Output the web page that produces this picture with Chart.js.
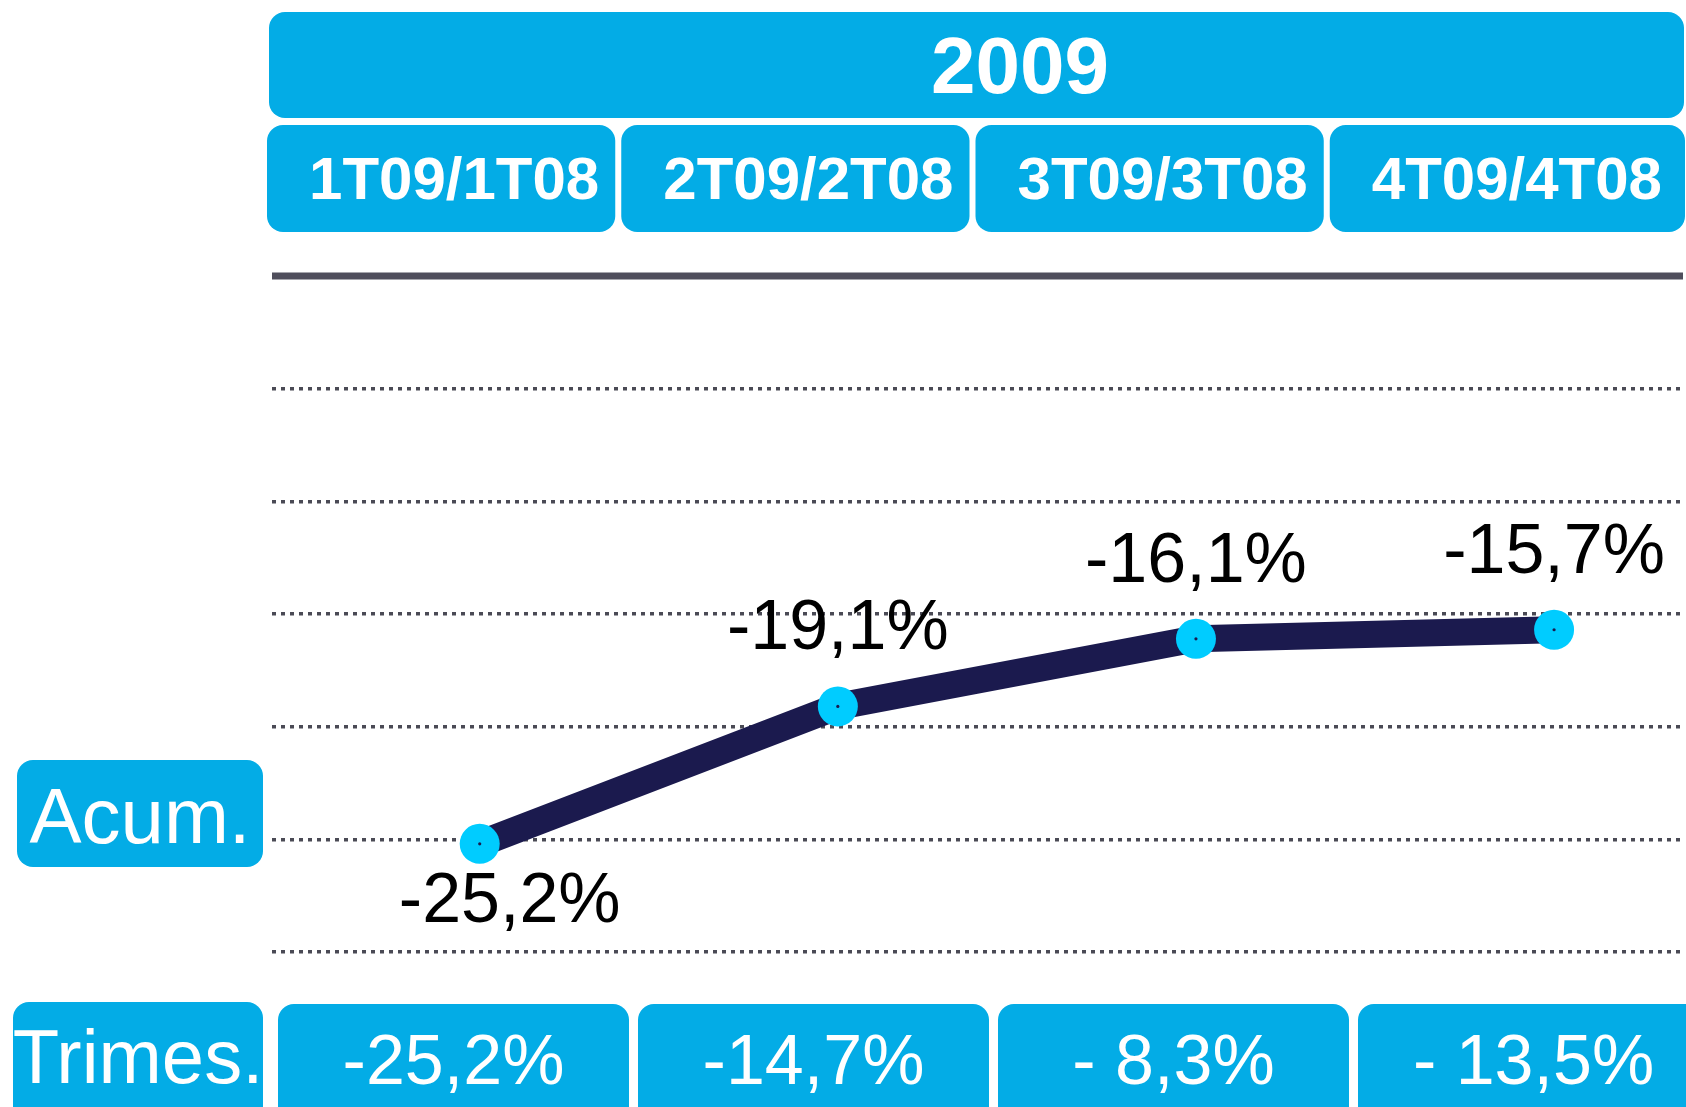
<!DOCTYPE html>
<html lang="es">
<head>
<meta charset="utf-8">
<title>Acum. / Trimes. 2009</title>
<script src="https://cdn.jsdelivr.net/npm/chart.js@4.4.1/dist/chart.umd.min.js"></script>
<style>
  html, body { margin: 0; padding: 0; background: #fff; }
  #wrap { width: 1686px; height: 1107px; overflow: hidden; }
</style>
</head>
<body>
<div id="wrap"><canvas id="acumChart" width="1686" height="1107"></canvas></div>
<script>
/* ==========================================================
   Variación acumulada vs trimestral 2009
   ========================================================== */

const yearLabel = '2009';
const quarters = ['1T09/1T08', '2T09/2T08', '3T09/3T08', '4T09/4T08'];
const acumValues = [-25.2, -19.1, -16.1, -15.7];
const trimesLabels = ['-25,2%', '-14,7%', '- 8,3%', '- 13,5%'];
const rowLabels = ['Acum.', 'Trimes.'];
const yTicks = [0, -5, -10, -15, -20, -25, -30];

const BLUE = '#03ace6';
const FONT = '"Liberation Sans", Arial, Helvetica, sans-serif';

const fmtPct = v => v.toFixed(1).replace('.', ',') + '%';

function roundBox(ctx, x, y, w, h, r) {
    ctx.beginPath();
    ctx.roundRect(x, y, w, h, r);
    ctx.fill();
}

function boxText(ctx, text, x, y, font, color) {
    ctx.font = font;
    ctx.fillStyle = color;
    ctx.textAlign = 'center';
    ctx.textBaseline = 'alphabetic';
    ctx.fillText(text, x, y);
}

// cabeceras, línea de cero, etiquetas y cajas inferiores
const framePlugin = {
    id: 'frame',
    beforeDatasetsDraw(chart) {
        const { ctx, chartArea, scales: { y } } = chart;
        const y0 = y.getPixelForValue(0);
        ctx.save();
        ctx.strokeStyle = '#4f4e5c';
        ctx.lineWidth = 7;
        ctx.beginPath();
        ctx.moveTo(chartArea.left, y0);
        ctx.lineTo(chartArea.right, y0);
        ctx.stroke();
        ctx.restore();
    },
    afterDatasetsDraw(chart) {
        const { ctx } = chart;
        const pts = chart.getDatasetMeta(0).data;
        ctx.save();
        pts.forEach((p, i) => {
            const below = i === 0;
            boxText(ctx, fmtPct(acumValues[i]),
                p.x + (below ? 30 : 0), below ? p.y + 78 : p.y - 57,
                `70px ${FONT}`, '#000');
        });
        ctx.restore();
    },
    afterDraw(chart) {
        const { ctx, chartArea, width } = chart;
        ctx.save();

        // banda del año
        const left = chartArea.left - 3;
        ctx.fillStyle = BLUE;
        roundBox(ctx, left, 12, width - left - 2, 106, 16);
        boxText(ctx, yearLabel, 1020, 93, `bold 80px ${FONT}`, '#fff');

        // cabeceras trimestrales
        const band = (width - left) / quarters.length;
        quarters.forEach((q, i) => {
            const x = left - 2 + i * band;
            const w = i === quarters.length - 1 ? width - x - 1 : band - 6;
            ctx.fillStyle = BLUE;
            roundBox(ctx, x, 125, w, 107, 16);
            boxText(ctx, q, x + band / 2 + 10, 199, `bold 60px ${FONT}`, '#fff');
        });

        // fila Trimes.
        const bandB = 360;
        trimesLabels.forEach((t, i) => {
            const x = chartArea.left + 6 + i * bandB;
            ctx.fillStyle = BLUE;
            roundBox(ctx, x, 1004, bandB - 9, 130, 16);
            boxText(ctx, t, x + (bandB - 9) / 2, 1084, `70px ${FONT}`, '#fff');
        });

        // etiquetas de fila
        ctx.fillStyle = BLUE;
        roundBox(ctx, 17, 760, 246, 107, 16);
        boxText(ctx, rowLabels[0], 140, 843, `78px ${FONT}`, '#fff');
        ctx.fillStyle = BLUE;
        roundBox(ctx, 13, 1002, 250, 130, 16);
        boxText(ctx, rowLabels[1], 138, 1083, `76px ${FONT}`, '#fff');

        ctx.restore();
    }
};

const ctx = document.getElementById('acumChart').getContext('2d');
const points = acumValues.map((v, i) => ({ x: i, y: v }));

new Chart(ctx, {
    type: 'line',
    data: {
        datasets: [{
            label: 'centro',
            data: points,
            showLine: false,
            pointRadius: 1.6,
            pointBackgroundColor: '#1b1a4e',
            pointBorderWidth: 0,
            clip: false,
            order: 0
        }, {
            label: 'Acum.',
            data: points,
            borderColor: '#1b1a4e',
            borderWidth: 27,
            borderJoinStyle: 'round',
            tension: 0,
            pointRadius: 20,
            pointHoverRadius: 20,
            pointBackgroundColor: '#00ccff',
            pointBorderWidth: 0,
            clip: false,
            order: 1
        }]
    },
    options: {
        responsive: false,
        animation: false,
        devicePixelRatio: 1,
        layout: { autoPadding: false, padding: { left: 272, right: 3, top: 276, bottom: 155 } },
        plugins: {
            legend: { display: false },
            tooltip: { enabled: false },
            title: { display: false }
        },
        scales: {
            x: {
                type: 'linear',
                display: false,
                min: -0.58,
                max: 3.36
            },
            y: {
                min: Math.min(...yTicks),
                max: Math.max(...yTicks),
                ticks: { display: false, stepSize: 5 },
                grid: {
                    drawTicks: false,
                    lineWidth: 3.5,
                    color: c => (c.tick && c.tick.value === 0) ? 'rgba(0,0,0,0)' : '#4a4a55'
                },
                border: { display: false, dash: [4, 5] },
                afterFit: s => { s.width = 0; }
            }
        }
    },
    plugins: [framePlugin]
});
</script>
</body>
</html>
